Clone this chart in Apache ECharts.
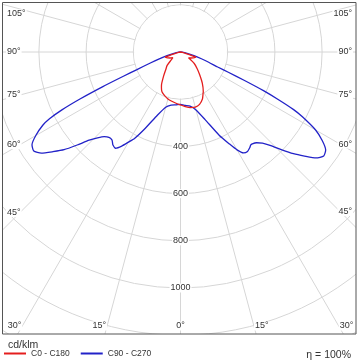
<!DOCTYPE html>
<html><head><meta charset="utf-8">
<script src="https://cdn.jsdelivr.net/npm/echarts@6/dist/echarts.min.js"></script>
<style>html,body{margin:0;padding:0;background:#fff}#c{width:360px;height:360px}</style>
</head><body><div id="c"></div>
<script>
// gamma angles (deg from nadir) and intensities (cd/klm)
const gammaBlue = [0,5,10,15,20,25,28,30,32,34,36,37,38,40,42,44,46,48,50,52,54,56,58,60,62,63,64,65,66,67,68,70,72,75,80,85,90];
const blueC90  = [222,227,233,254,305,390,441,479,504,508,500,494,494,502,519,551,597,644,686,729,750,742,708,661,585,538,466,390,297,220,170,127,93,59,25,8,0];
const blueC270 = [222,225,229,242,284,360,415,441,470,492,487,479,472,472,483,506,538,589,644,686,729,750,742,708,661,623,559,466,360,263,199,136,97,59,25,8,0];
const gammaRed = [0,5,10,15,20,25,28,30,35,40,45,50,54,60,65,70,72,75,80,90];
const redC0    = [224,232,239,242,236,220,203,193,161,127,100,76,42,51,59,68,64,25,8,0];
const redC180  = [224,218,212,206,197,186,172,161,125,97,80,50,40,51,59,68,64,25,8,0];
const angleTicks = [0,15,30,45,60,75,90,105];
const radiusTicks = [400,600,800,1000];
const seriesNames = ['C0 - C180','C90 - C270'];
const unitLabel = 'cd/klm';
const effLabel = '\u03b7 = 100%';

const SCALE = 0.236, RMAX = 1600, CX = 180.5, CY = 52;
const FONT = '"Liberation Sans", Arial, sans-serif';

function closedCurve(gammas, leftVals, rightVals) {
  const pts = [];
  for (let i = gammas.length - 1; i >= 0; i--) pts.push([leftVals[i], 360 - gammas[i]]);
  for (let i = 0; i < gammas.length; i++) pts.push([rightVals[i], gammas[i]]);
  return pts;
}

const chart = echarts.init(document.getElementById('c'), null, {renderer: 'canvas'});
const grid = {color: '#d6d6d6', width: 1};
chart.setOption({
  animation: false,
  polar: {center: [CX, CY], radius: RMAX * SCALE},
  angleAxis: {type: 'value', min: 0, max: 360, interval: 15, startAngle: 270, clockwise: false, z: 0,
    axisLine: {show: false}, axisTick: {show: false}, axisLabel: {show: false},
    splitLine: {show: true, lineStyle: grid}},
  radiusAxis: {type: 'value', min: 0, max: RMAX, interval: 200, z: 0,
    axisLine: {show: false}, axisTick: {show: false}, axisLabel: {show: false},
    splitLine: {show: true, lineStyle: grid}},
  legend: {left: 4, top: 349, padding: 0, z: 40, itemWidth: 22, itemHeight: 2, itemGap: 11, icon: 'rect',
    data: seriesNames, textStyle: {fontSize: 8.5, color: '#333', fontFamily: FONT}},
  series: [
    {name: seriesNames[0], type: 'line', coordinateSystem: 'polar', showSymbol: false, symbol: 'none', z: 6,
      smooth: 0.2, color: '#e41e1e', lineStyle: {color: '#e41e1e', width: 1.3},
      data: closedCurve(gammaRed, redC180, redC0)},
    {name: seriesNames[1], type: 'line', coordinateSystem: 'polar', showSymbol: false, symbol: 'none', z: 5,
      smooth: 0.2, color: '#2222c8', lineStyle: {color: '#2222c8', width: 1.3},
      data: closedCurve(gammaBlue, blueC270, blueC90)}
  ]
});

const C = chart.convertToPixel({polarIndex: 0}, [0, 0]);
const r200 = chart.convertToPixel({polarIndex: 0}, [200, 0])[1] - C[1];
const g = [];
g.push({type: 'circle', z: 1, shape: {cx: C[0], cy: C[1], r: r200 - 0.8}, style: {fill: '#fff'}});
// masks outside frame
[[0,0,360,2.5],[0,0,2.5,360],[356,0,4,360],[0,334,360,26]].forEach(r => {
  g.push({type: 'rect', z: 20, shape: {x: r[0], y: r[1], width: r[2], height: r[3]}, style: {fill: '#fff'}});
});
g.push({type: 'rect', z: 21, shape: {x: 2.5, y: 2.5, width: 353.5, height: 331.5}, style: {fill: 'none', stroke: '#555', lineWidth: 1}});

function txt(x, y, text, size, align, z) {
  return {type: 'text', x: x, y: y, z: z || 22,
    style: {text: text, font: size + 'px ' + FONT, fontSize: size, fontFamily: FONT, fill: '#333',
      align: align, verticalAlign: 'middle', textAlign: align, textVerticalAlign: 'middle',
      backgroundColor: '#fff', padding: [0, 1]}};
}
angleTicks.forEach(a => {
  [1, -1].forEach(side => {
    if (a === 0 && side === -1) return;
    const av = side === 1 ? a : 360 - a;
    const P = chart.convertToPixel({polarIndex: 0}, [1000, av]);
    const dx = P[0] - C[0], dy = P[1] - C[1];
    let x, y, align;
    if (a <= 30) {
      y = 326; x = C[0] + (y - C[1]) * dx / dy;
      align = a === 0 ? 'center' : (dx > 0 ? 'left' : 'right');
    } else {
      const xl = dx > 0 ? 340 : 20;
      x = dx > 0 ? 353 : 6;
      y = Math.max(14, C[1] + (xl - C[0]) * dy / dx);
      align = dx > 0 ? 'right' : 'left';
    }
    g.push(txt(x, y, a + '\u00b0', 9, align));
  });
});
radiusTicks.forEach(v => {
  const P = chart.convertToPixel({polarIndex: 0}, [v, 0]);
  g.push(txt(P[0], P[1], String(v), 9, 'center'));
});
g.push(txt(7, 345, unitLabel, 10.5, 'left', 23));
g.push(txt(352, 355, effLabel, 10.5, 'right', 23));
chart.setOption({graphic: g});
</script></body></html>
